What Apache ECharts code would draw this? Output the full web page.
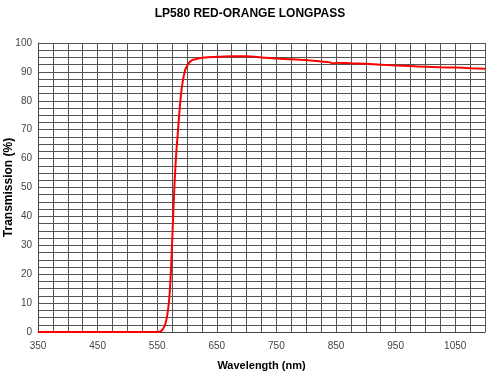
<!DOCTYPE html>
<html><head><meta charset="utf-8">
<script src="https://cdn.jsdelivr.net/npm/echarts@6/dist/echarts.min.js"></script>
<style>html,body{margin:0;padding:0;background:#fff}#c{width:500px;height:375px}</style>
</head><body><div id="c"></div>
<script>
var wavelengths = [350,400,450,500,550,555,558,561,564,567,570,573,576,579,582,585,588,591,594,597,600,605,610,620,630,650,675,700,725,750,775,800,825,840,845,850,875,900,925,950,975,1000,1025,1050,1075,1100];
var transmission = [0,0,0,0,0.1,0.2,0.6,1.5,3,6,11,21,36,51,62,70,78,84,88,90.7,92,93.5,94.2,94.7,95,95.2,95.4,95.4,95,94.6,94.4,94.1,93.6,93.3,92.9,93.2,93,92.8,92.5,92.2,92,91.8,91.6,91.5,91.3,91.1];
var xLabels = [350,450,550,650,750,850,950,1050];
var yLabels = [0,10,20,30,40,50,60,70,80,90,100];
var title = 'LP580 RED-ORANGE LONGPASS';

var font = 'Liberation Sans, Arial';
var data = wavelengths.map(function(w,i){return [w, transmission[i]];});
var chart = echarts.init(document.getElementById('c'));
chart.setOption({
  animation:false,
  title:{text:title,left:'center',top:3,textStyle:{fontFamily:font,fontWeight:'bold',fontSize:12,color:'#000'}},
  grid:{left:38,right:15,top:43,bottom:43,outerBoundsMode:'none',containLabel:false},
  xAxis:{type:'value',min:350,max:1100,interval:25,
    name:'Wavelength (nm)',nameLocation:'middle',nameGap:28,nameMoveOverlap:false,
    nameTextStyle:{fontFamily:font,fontWeight:'bold',fontSize:11,color:'#000'},
    axisLine:{show:true,lineStyle:{color:'#444',width:1}},axisTick:{show:false},
    axisLabel:{margin:9,fontFamily:font,fontSize:10,color:'#444',showMaxLabel:false,
      formatter:function(v){return xLabels.indexOf(v)>=0?String(v):'';}},
    splitLine:{show:true,lineStyle:{color:'#555',width:1}}},
  yAxis:{type:'value',min:0,max:100,interval:2.5,
    name:'Transmission (%)',nameLocation:'middle',nameGap:23,nameRotate:90,nameMoveOverlap:false,
    nameTextStyle:{fontFamily:font,fontWeight:'bold',fontSize:12,color:'#000'},
    axisLine:{show:true,lineStyle:{color:'#444',width:1}},axisTick:{show:false},
    axisLabel:{margin:6,fontFamily:font,fontSize:10,color:'#444',
      formatter:function(v){return yLabels.indexOf(v)>=0?String(v):'';}},
    splitLine:{show:true,lineStyle:{color:'#555',width:1}}},
  series:[{type:'line',data:data,smooth:0.3,showSymbol:false,symbol:'none',
    lineStyle:{color:'#ff0000',width:2}}]
});
</script></body></html>
